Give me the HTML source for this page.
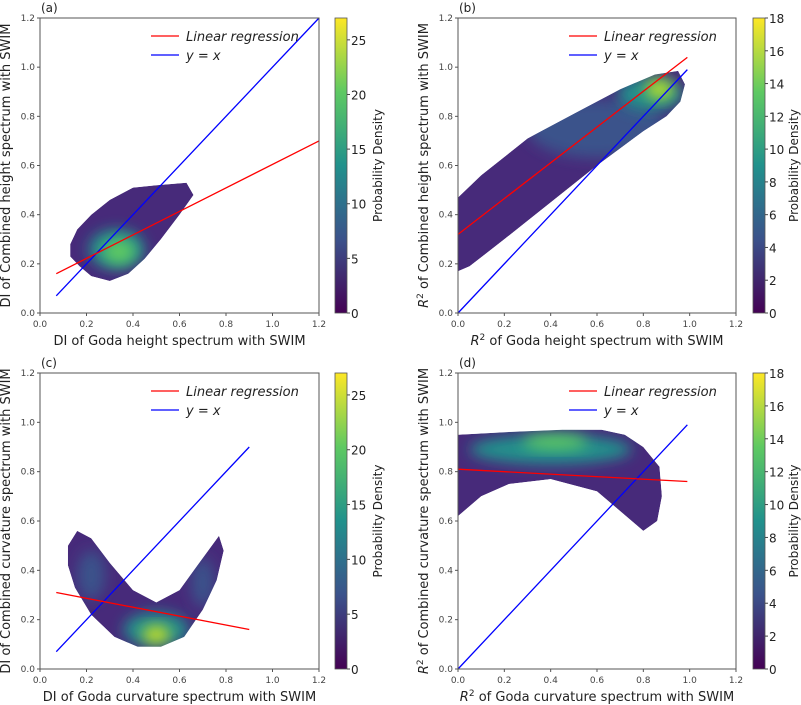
<!DOCTYPE html>
<html><head><meta charset="utf-8"><style>
body{margin:0;background:#fff;}
svg{display:block;font-family:"DejaVu Sans","Liberation Sans",sans-serif;}
</style></head><body>
<svg id="fig" width="801" height="705" viewBox="0 0 801 705">
<defs>
<linearGradient id="viridis" x1="0" y1="1" x2="0" y2="0">
<stop offset="0" stop-color="#440154"/><stop offset="0.25" stop-color="#3b528b"/><stop offset="0.5" stop-color="#21918c"/><stop offset="0.75" stop-color="#5ec962"/><stop offset="1" stop-color="#fde725"/>
</linearGradient>
<filter id="blur6" x="-50%" y="-50%" width="200%" height="200%"><feGaussianBlur stdDeviation="7"/></filter>
</defs>
</svg>
<script>
// ---- data ----
const xTicks = [0.0,0.2,0.4,0.6,0.8,1.0,1.2];
const yTicks = [0.0,0.2,0.4,0.6,0.8,1.0,1.2];
const cbTicksA = [0,5,10,15,20,25];
const cbTicksB = [0,2,4,6,8,10,12,14,16,18];
const cbMaxA = 27, cbMaxB = 18;
const panelLabels = ['(a)','(b)','(c)','(d)'];
const xTitles = ['DI of Goda height spectrum with SWIM','of Goda height spectrum with SWIM','DI of Goda curvature spectrum with SWIM','of Goda curvature spectrum with SWIM'];
const yTitles = ['DI of Combined height spectrum with SWIM','of Combined height spectrum with SWIM','DI of Combined curvature spectrum with SWIM','of Combined curvature spectrum with SWIM'];
const useR2 = [false,true,false,true];
const regA = [[0.07,0.16],[1.2,0.70]];
const regB = [[0.0,0.32],[0.99,1.04]];
const regC = [[0.07,0.31],[0.9,0.16]];
const regD = [[0.0,0.81],[0.99,0.76]];
const idA = [0.07,1.2], idB = [0.0,0.99], idC = [0.07,0.9], idD = [0.0,0.99];
const outlineA = [[0.13,0.28],[0.16,0.34],[0.22,0.40],[0.30,0.46],[0.40,0.51],[0.50,0.52],[0.63,0.53],[0.66,0.48],[0.60,0.40],[0.52,0.30],[0.45,0.22],[0.38,0.16],[0.30,0.13],[0.22,0.15],[0.17,0.19],[0.13,0.23]];
const outlineB = [[0,0.47],[0.1,0.56],[0.3,0.71],[0.5,0.81],[0.7,0.91],[0.85,0.97],[0.95,0.985],[0.98,0.93],[0.96,0.86],[0.9,0.80],[0.8,0.74],[0.6,0.60],[0.4,0.45],[0.2,0.30],[0.05,0.19],[0,0.17]];
const outlineC = [[0.12,0.50],[0.16,0.56],[0.22,0.53],[0.30,0.43],[0.40,0.32],[0.50,0.27],[0.60,0.32],[0.70,0.45],[0.77,0.54],[0.79,0.48],[0.76,0.36],[0.70,0.24],[0.62,0.13],[0.52,0.09],[0.42,0.09],[0.32,0.13],[0.22,0.22],[0.15,0.33],[0.12,0.42]];
const outlineD = [[0,0.95],[0.2,0.96],[0.45,0.97],[0.62,0.97],[0.72,0.95],[0.80,0.90],[0.87,0.82],[0.88,0.70],[0.86,0.60],[0.80,0.56],[0.70,0.64],[0.60,0.72],[0.40,0.77],[0.22,0.75],[0.10,0.70],[0,0.62]];
const coreA = [[0.33,0.26,0.12,0.08,'#21918c'],[0.34,0.25,0.07,0.05,'#5ec962']];
const coreB = [[0.6,0.75,0.3,0.12,'#3b528b'],[0.83,0.89,0.14,0.07,'#21918c'],[0.87,0.91,0.06,0.04,'#b5de2b']];
const coreC = [[0.5,0.16,0.14,0.07,'#21918c'],[0.5,0.14,0.06,0.035,'#c8e020'],[0.22,0.38,0.06,0.1,'#3b528b'],[0.7,0.35,0.05,0.1,'#3b528b']];
const coreD = [[0.4,0.89,0.35,0.06,'#21918c'],[0.42,0.92,0.14,0.03,'#5ec962']];
const panels = [
 {x0:40,x1:319,y0:313,y1:18,cbx:335,tOff:35,reg:regA,id:idA,out:outlineA,core:coreA,cbT:cbTicksA,cbM:cbMaxA},
 {x0:458,x1:736,y0:313,y1:18,cbx:753,tOff:33,reg:regB,id:idB,out:outlineB,core:coreB,cbT:cbTicksB,cbM:cbMaxB},
 {x0:40,x1:319,y0:669,y1:373,cbx:335,tOff:35,reg:regC,id:idC,out:outlineC,core:coreC,cbT:cbTicksA,cbM:cbMaxA},
 {x0:458,x1:736,y0:669,y1:373,cbx:753,tOff:33,reg:regD,id:idD,out:outlineD,core:coreD,cbT:cbTicksB,cbM:cbMaxB}];
const NS='http://www.w3.org/2000/svg';
const svg=document.getElementById('fig');
function mk(tag,attrs,parent,text){const e=document.createElementNS(NS,tag);for(const k in attrs)e.setAttribute(k,attrs[k]);if(text!==undefined)e.textContent=text;(parent||svg).appendChild(e);return e;}
panels.forEach((p,i)=>{
 const sx=v=>p.x0+(p.x1-p.x0)*v/1.2, sy=v=>p.y0+(p.y1-p.y0)*v/1.2;
 const g=mk('g',{});
 
 
 const cid='clip'+i;
 const cp=mk('clipPath',{id:cid},svg.querySelector('defs'));
 const d='M'+p.out.map(q=>sx(q[0]).toFixed(1)+','+sy(q[1]).toFixed(1)).join('L')+'Z';
 mk('path',{d:d},cp);
 const cloud=mk('g',{'clip-path':'url(#'+cid+')'},g);
 
 
 mk('path',{d:d,fill:'#472a7a'},cloud);
 p.core.forEach(c=>{mk('ellipse',{cx:sx(c[0]),cy:sy(c[1]),rx:(p.x1-p.x0)*c[2]/1.2,ry:(p.y0-p.y1)*c[3]/1.2,fill:c[4],filter:'url(#blur6)'},cloud);});
 const id=mk('line',{x1:sx(p.id[0]),y1:sy(p.id[0]),x2:sx(p.id[1]),y2:sy(p.id[1]),stroke:'#0000ff','stroke-width':1.3},g);
 
 
 const rg=mk('line',{x1:sx(p.reg[0][0]),y1:sy(p.reg[0][1]),x2:sx(p.reg[1][0]),y2:sy(p.reg[1][1]),stroke:'#ff0000','stroke-width':1.3},g);
 
 
 const fr=mk('rect',{x:p.x0,y:p.y1,width:p.x1-p.x0,height:p.y0-p.y1,fill:'none',stroke:'#555','stroke-width':1},g);
 
 
 xTicks.forEach(t=>{mk('line',{x1:sx(t),x2:sx(t),y1:p.y0,y2:p.y0+3,stroke:'#555'},g);
  const tx=mk('text',{x:sx(t),y:p.y0+14,'font-size':9,'text-anchor':'middle',fill:'#444'},g,t.toFixed(1));
  });
 yTicks.forEach(t=>{mk('line',{x1:p.x0-3,x2:p.x0,y1:sy(t),y2:sy(t),stroke:'#555'},g);
  const tx=mk('text',{x:p.x0-5,y:sy(t)+3,'font-size':9,'text-anchor':'end',fill:'#444'},g,t.toFixed(1));
  });
 const pl=mk('text',{x:p.x0+1,y:p.y1-6,'font-size':12,fill:'#222'},g,panelLabels[i]);
 
 const xt=mk('text',{x:(p.x0+p.x1)/2,y:p.y0+32,'font-size':13,'text-anchor':'middle',fill:'#222'},g);
 
 if(useR2[i]){mk('tspan',{'font-style':'italic'},xt,'R');mk('tspan',{dy:-5,'font-size':9},xt,'2');mk('tspan',{dy:5},xt,' '+xTitles[i]);}else xt.textContent=xTitles[i];
 const yx=p.x0-30,yy=(p.y0+p.y1)/2;
 const yt=mk('text',{x:yx,y:yy,'font-size':13,'text-anchor':'middle',fill:'#222',transform:`rotate(-90 ${yx} ${yy})`},g);
 
 if(useR2[i]){mk('tspan',{'font-style':'italic'},yt,'R');mk('tspan',{dy:-5,'font-size':9},yt,'2');mk('tspan',{dy:5},yt,' '+yTitles[i]);}else yt.textContent=yTitles[i];
 const lg=mk('g',{},g);
 
 const lx=p.x0+111,ly=p.y1+18;
 mk('line',{x1:lx,x2:lx+28,y1:ly,y2:ly,stroke:'#ff0000','stroke-width':1.3},lg);
 mk('text',{x:lx+35,y:ly+5,'font-size':13,'font-style':'italic',fill:'#222'},lg,'Linear  regression');
 mk('line',{x1:lx,x2:lx+28,y1:ly+19,y2:ly+19,stroke:'#0000ff','stroke-width':1.3},lg);
 mk('text',{x:lx+35,y:ly+24,'font-size':13,'font-style':'italic',fill:'#222'},lg,'y = x');
 const cb=mk('g',{},g);
 
 const cw=12,ch=p.y0-p.y1;
 mk('rect',{x:p.cbx,y:p.y1,width:cw,height:ch,fill:'url(#viridis)',stroke:'#555','stroke-width':0.8},cb);
 p.cbT.forEach(t=>{const yv=p.y0-ch*t/p.cbM;
  mk('line',{x1:p.cbx+cw,x2:p.cbx+cw+3,y1:yv,y2:yv,stroke:'#444'},cb);
  const tx=mk('text',{x:p.cbx+cw+4,y:yv+5,'font-size':12,fill:'#222'},cb,String(t));
  });
 const cx=p.cbx+cw+p.tOff,cy=(p.y0+p.y1)/2;
 const ct=mk('text',{x:cx,y:cy,'font-size':12,'text-anchor':'middle',fill:'#222',transform:`rotate(-90 ${cx} ${cy})`},cb,'Probability Density');
 
});
</script>
</body></html>
